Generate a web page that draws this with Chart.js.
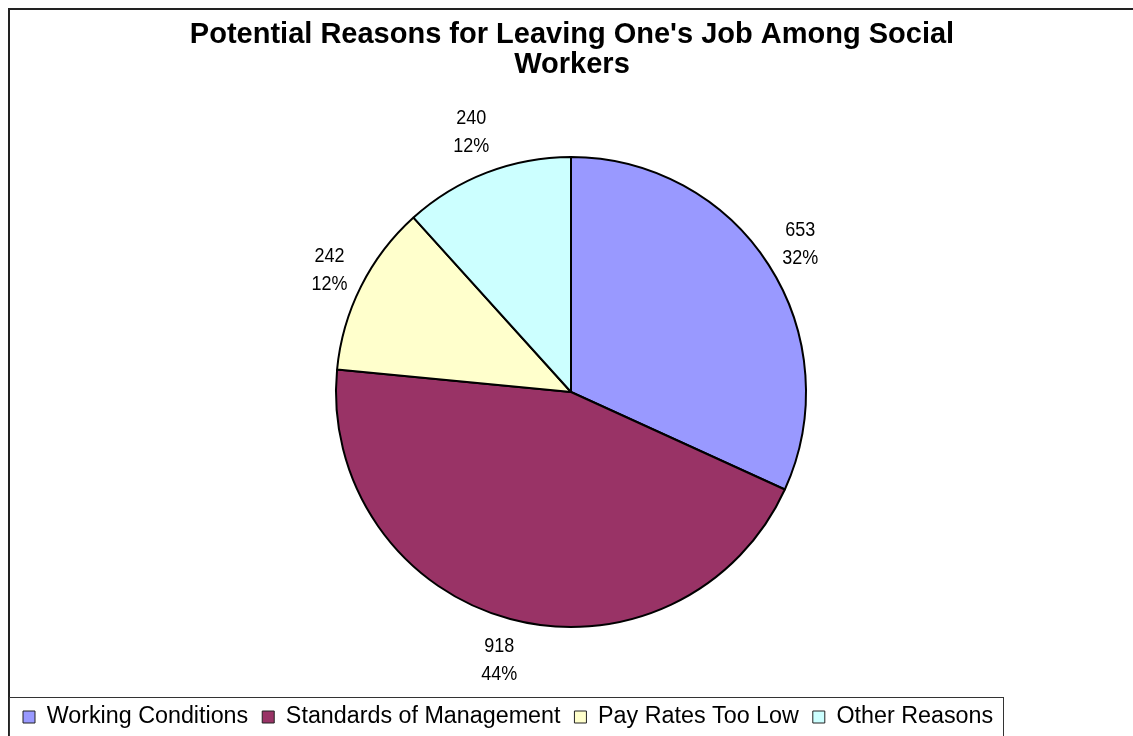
<!DOCTYPE html>
<html lang="en">
<head>
    <meta charset="UTF-8">
    <title>Potential Reasons for Leaving One's Job Among Social Workers</title>
    <script src="https://cdn.jsdelivr.net/npm/chart.js"></script>
    <style>
        body {
            margin: 0;
            background-color: #ffffff;
        }
        .container {
            position: relative;
            width: 1133px;
            height: 736px;
        }
    </style>
</head>
<body>
    <div class="container">
        <canvas id="reasonsChart"></canvas>
    </div>
    <script>
        const reasons = ["Working Conditions", "Standards of Management", "Pay Rates Too Low", "Other Reasons"];
        const counts = [653, 918, 242, 240];
        const percentLabels = ["32%", "44%", "12%", "12%"];
        const sliceColors = ["#9999FF", "#993366", "#FFFFCC", "#CCFFFF"];

        Chart.defaults.font.family = '"Liberation Sans", Arial, sans-serif';
        Chart.defaults.color = "#000";

        const legendFontSize = 23.3;

        // outer frame of the chart area (runs off the right and bottom)
        const framePlugin = {
            id: "frame",
            beforeDraw(chart) {
                const ctx = chart.ctx;
                ctx.save();
                ctx.fillStyle = "#fff";
                ctx.fillRect(0, 0, chart.width, chart.height);
                ctx.strokeStyle = "#222";
                ctx.lineWidth = 2;
                ctx.strokeRect(9, 9, chart.width + 20, chart.height + 20);
                ctx.restore();
            }
        };

        // value + percent written outside each slice (text slightly tall, like the old export)
        const sliceLabels = {
            id: "sliceLabels",
            afterDatasetsDraw(chart) {
                const ctx = chart.ctx;
                const meta = chart.getDatasetMeta(0);
                const fontSize = 18;
                const stretch = 1.16;
                const lineGap = 28;
                const gap = 3;
                ctx.save();
                ctx.font = fontSize + 'px "Liberation Sans", Arial, sans-serif';
                ctx.fillStyle = "#000";
                ctx.textAlign = "center";
                ctx.textBaseline = "middle";
                meta.data.forEach((arc, i) => {
                    const p = arc.getProps(["x", "y", "startAngle", "endAngle", "outerRadius"], true);
                    const mid = (p.startAngle + p.endAngle) / 2;
                    const dx = Math.cos(mid), dy = Math.sin(mid);
                    const lines = [String(counts[i]), percentLabels[i]];
                    const w = Math.max(...lines.map(t => ctx.measureText(t).width));
                    const h = 72;
                    const r = p.outerRadius + gap + Math.abs(dx) * w / 2 + Math.abs(dy) * h / 2;
                    const cx = p.x + dx * r;
                    const cy = p.y + dy * r;
                    [cy - lineGap / 2, cy + lineGap / 2].forEach((ly, k) => {
                        ctx.save();
                        ctx.translate(cx, ly);
                        ctx.scale(1, stretch);
                        ctx.fillText(lines[k], 0, 0);
                        ctx.restore();
                    });
                });
                ctx.restore();
            }
        };

        // thin box around the legend row
        const legendBox = {
            id: "legendBox",
            afterDraw(chart) {
                const legend = chart.legend;
                if (!legend || !legend.legendHitBoxes.length) return;
                const boxes = legend.legendHitBoxes;
                const last = boxes[boxes.length - 1];
                const textMid = last.top + last.height / 2;
                const ctx = chart.ctx;
                ctx.save();
                ctx.strokeStyle = "#333";
                ctx.lineWidth = 1;
                ctx.strokeRect(9.5, Math.round(textMid - 20) + 0.5, Math.round(last.left + last.width + 10) - 9, chart.height);
                ctx.restore();
            }
        };

        const pieLegendLabels = Chart.overrides.pie.plugins.legend.labels.generateLabels;

        const ctx = document.getElementById("reasonsChart").getContext("2d");
        new Chart(ctx, {
            type: "pie",
            data: {
                labels: reasons,
                datasets: [{
                    data: counts,
                    backgroundColor: sliceColors,
                    borderColor: "#000",
                    borderWidth: 2,
                    radius: 235
                }]
            },
            options: {
                responsive: true,
                maintainAspectRatio: false,
                animation: false,
                events: [],
                layout: {
                    padding: { left: 9, right: -2, top: 8, bottom: -2.65 }
                },
                plugins: {
                    title: {
                        display: true,
                        text: ["Potential Reasons for Leaving One's Job Among Social", "Workers"],
                        color: "#000",
                        font: { size: 29, weight: "bold", lineHeight: 30 / 29 },
                        padding: { top: 12, bottom: 12.65 }
                    },
                    legend: {
                        position: "bottom",
                        align: "start",
                        labels: {
                            color: "#000",
                            boxWidth: 12,
                            boxHeight: 12,
                            padding: 14,
                            font: { size: legendFontSize },
                            generateLabels(chart) {
                                return pieLegendLabels(chart).map(item => Object.assign(item, { lineWidth: 1, strokeStyle: "#222" }));
                            }
                        }
                    },
                    tooltip: { enabled: false }
                }
            },
            plugins: [framePlugin, sliceLabels, legendBox]
        });
    </script>
</body>
</html>
